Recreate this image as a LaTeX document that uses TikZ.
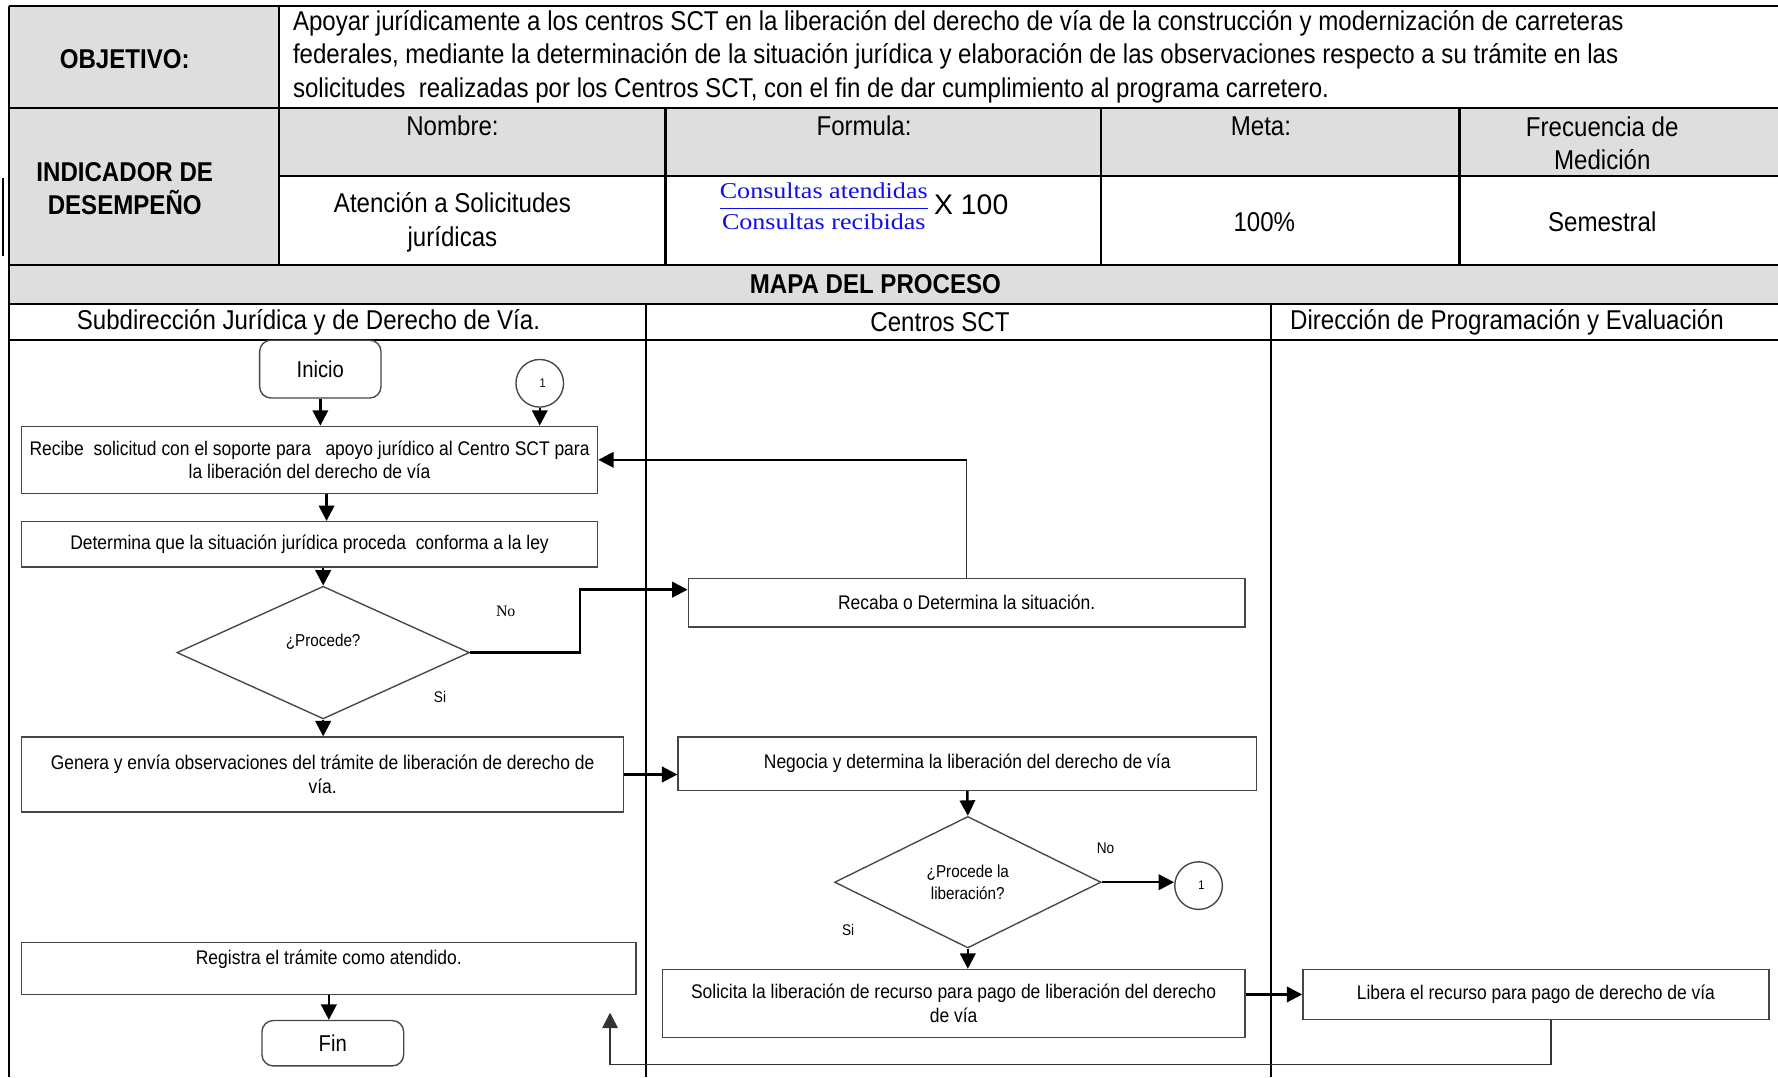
\documentclass[tikz,border=0pt]{standalone}
\usepackage{fontspec}
\setmainfont{Liberation Sans}[FakeStretch=0.885]
\newfontfamily\regsans{Liberation Sans}
\newfontfamily\formfont{Liberation Serif}[FakeStretch=1.15]
\newfontfamily\timesfont{Liberation Serif}
\usetikzlibrary{shapes.geometric,arrows.meta,calc}
\definecolor{cellgray}{RGB}{222,222,222}
\definecolor{boxline}{RGB}{70,70,70}
\definecolor{fblue}{RGB}{15,15,235}
\newcommand\tblfont{\fontsize{12}{14.75}\selectfont}
\newcommand\boxfont{\fontsize{8.7}{10.5}\selectfont}
\begin{document}
\begin{tikzpicture}[x=0.5pt,y=-0.5pt,
  tbl/.style={line width=1pt,black},
  ttext/.style={inner sep=0pt,align=center,font=\tblfont},
  box/.style={draw=boxline,line width=0.6pt,fill=white,inner sep=1pt,align=center,font=\boxfont},
  term/.style={box,rounded corners=5pt,font=\fontsize{10.1}{12}\selectfont},
  dec/.style={diamond,draw=boxline,line width=0.6pt,inner sep=0pt,align=center,font=\fontsize{7.6}{9.5}\selectfont},
  conn/.style={circle,draw=boxline,line width=0.6pt,minimum size=21pt,inner sep=0pt,font=\fontsize{5.5}{6}\selectfont},
  arr/.style={line width=1.1pt,-{Triangle[length=6.8pt,width=6.8pt]}},
  thinl/.style={line width=0.55pt,draw=black!80},
  lbl/.style={inner sep=0pt,font=\fontsize{6.8}{8}\selectfont}]
\useasboundingbox (0,0) rectangle (1568,950);
\fill[white] (0,0) rectangle (1568,950);
% ---------- table fills
\fill[cellgray] (8,5) rectangle (246,234);
\fill[cellgray] (246,95) rectangle (1568,155);
\fill[cellgray] (8,234) rectangle (1568,268);
% ---------- table lines
\draw[tbl] (8,5) -- (1568,5);
\draw[tbl] (8,95) -- (1568,95);
\draw[tbl] (246,155) -- (1568,155);
\draw[tbl] (8,234) -- (1568,234);
\draw[tbl] (8,268) -- (1568,268);
\draw[tbl] (8,300) -- (1568,300);
\draw[tbl] (8,5) -- (8,950);
\draw[tbl] (246,5) -- (246,234);
\draw[tbl] (587,95) -- (587,234);
\draw[tbl] (971,95) -- (971,234);
\draw[tbl] (1287,95) -- (1287,234);
\draw[tbl] (570,268) -- (570,950);
\draw[tbl] (1121,268) -- (1121,950);
\draw[line width=0.8pt] (2.5,157) -- (2.5,226);
% ---------- table texts
\node[ttext,font=\tblfont\bfseries] (tobj) at (110,52) {OBJETIVO:};
\node[ttext,anchor=west,align=left] (tobjtxt) at (258,50) {Apoyar jurídicamente a los centros SCT en la liberación del derecho de vía de la construcción y modernización de carreteras\\
federales, mediante la determinación de la situación jurídica y elaboración de las observaciones respecto a su trámite en las\\
solicitudes\ \ realizadas por los Centros SCT, con el fin de dar cumplimiento al programa carretero.};
\node[ttext,font=\fontsize{12}{14.5}\selectfont\bfseries] (tind) at (110,166) {INDICADOR DE\\DESEMPEÑO};
\node[ttext] (hnom) at (399,111) {Nombre:};
\node[ttext] (hfor) at (762,111) {Formula:};
\node[ttext] (hmet) at (1112,111) {Meta:};
\node[ttext,font=\fontsize{12}{14.5}\selectfont] (hfre) at (1413,126) {Frecuencia de\\Medición};
\node[ttext,font=\fontsize{12}{15}\selectfont] (vnom) at (399,196) {Atención a Solicitudes\\jurídicas};
\node[inner sep=0pt,anchor=west,font=\fontsize{10}{12}\selectfont] (vfor) at (632,182)
  {\color{fblue}$\displaystyle\frac{\hbox{\formfont Consultas atendidas}}{\hbox{\formfont Consultas recibidas}}$\color{black}\,{\regsans\fontsize{12.5}{14}\selectfont X 100}};
\node[ttext] (vmet) at (1115,196) {100\%};
\node[ttext] (vfre) at (1413,196) {Semestral};
\node[ttext,font=\tblfont\bfseries] (tmapa) at (772,251) {MAPA DEL PROCESO};
\node[ttext] (lane1) at (272,284) {Subdirección Jurídica y de Derecho de Vía.};
\node[ttext] (lane2) at (829,284) {Centros SCT};
\node[ttext] (lane3) at (1329,284) {Dirección de Programación y Evaluación};
% ---------- flow nodes
\node[term,minimum width=53.5pt,minimum height=25.5pt] (inicio) at (282.5,325.5) {Inicio};
\node[conn] (c1) at (476,338) {\hspace{2.5pt}1};
\node[box,minimum width=254pt,minimum height=29.5pt] (recibe) at (273,405.5)
  {Recibe\ \ solicitud con el soporte para\ \ \ apoyo jurídico al Centro SCT para\\la liberación del derecho de vía};
\node[box,minimum width=254pt,minimum height=20pt] (determina) at (273,480)
  {Determina que la situación jurídica proceda\ \ conforma a la ley};
\node[dec,minimum width=129pt,minimum height=58.5pt,text height=6pt,text depth=11pt] (d1) at (285,575.5) {¿Procede?};
\node[lbl,font=\fontsize{7}{8}\timesfont] (no1) at (446,539) {No};
\node[lbl] (si1) at (388,615) {Si};
\node[box,minimum width=245.5pt,minimum height=21.5pt] (recaba) at (852.5,531.5) {Recaba o Determina la situación.};
\node[box,minimum width=265.5pt,minimum height=33pt] (genera) at (284.5,683)
  {Genera y envía observaciones del trámite de liberación de derecho de\\vía.};
\node[box,minimum width=255pt,minimum height=23.5pt] (negocia) at (853,673.5) {Negocia y determina la liberación del derecho de vía};
\node[dec,minimum width=117.5pt,minimum height=58pt] (d2) at (853.5,778) {¿Procede la\\liberación?};
\node[lbl] (no2) at (975,748) {No};
\node[lbl] (si2) at (748,820) {Si};
\node[conn] (c2) at (1057,781) {\hspace{2.5pt}1};
\node[box,minimum width=257pt,minimum height=30pt] (solicita) at (841,885)
  {Solicita la liberación de recurso para pago de liberación del derecho\\de vía};
\node[box,minimum width=205.5pt,minimum height=22pt] (libera) at (1354.5,877) {Libera el recurso para pago de derecho de vía};
\node[box,minimum width=271pt,minimum height=23pt,text height=6.5pt,text depth=10pt] (registra) at (290,854) {Registra el trámite como atendido.};
\node[term,minimum width=62.5pt,minimum height=20pt] (fin) at (293.5,920) {Fin};
\coordinate (ret) at (538,893);
% ---------- connectors
\draw[arr] (inicio.south) -- (inicio.south |- recibe.north);
\draw[arr] (c1.south) -- (c1.south |- recibe.north);
\draw[arr] ([xshift=7.5pt]recibe.south) -- ([xshift=7.5pt]recibe.south |- determina.north);
\draw[arr] (determina.south -| d1.north) -- (d1.north);
\draw[arr] (d1.east) -- ++(97,0) |- ([yshift=5.75pt]recaba.west);
\draw[thinl] (recaba.north) -- (recaba.north |- recibe.east) coordinate (rk);
\draw[arr] (rk) -- (recibe.east);
\draw[arr] (d1.south) -- (d1.south |- genera.north);
\draw[arr] (genera.east) -- (genera.east -| negocia.west);
\draw[arr] (negocia.south) -- (d2.north);
\draw[arr] (d2.east) -- (d2.east -| c2.west);
\draw[arr] (d2.south) -- (d2.south |- solicita.north);
\draw[arr] (libera.west -| solicita.east) -- (libera.west);
\draw[arr] (registra.south) -- (registra.south |- fin.north);
\draw[thinl,line width=0.7pt,-{Triangle[length=6.8pt,width=6.8pt]}] ([xshift=6.75pt]libera.south) -- ++(0,39) -| (ret);
\end{tikzpicture}
\end{document}
